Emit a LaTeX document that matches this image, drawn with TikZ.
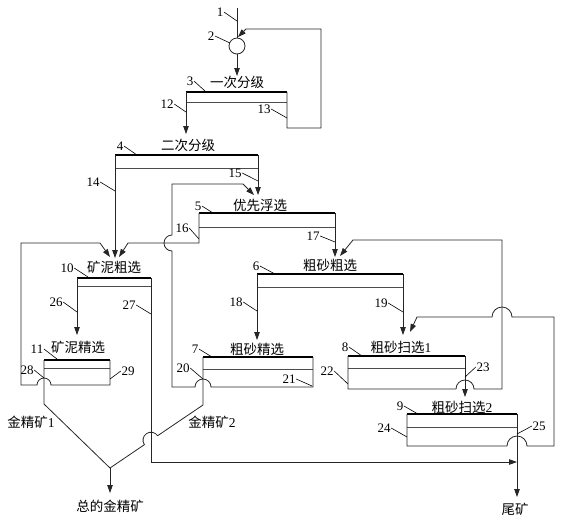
\documentclass[tikz,border=0pt]{standalone}
\usepackage{fontspec}
\setmainfont{Liberation Serif}
\newfontfamily\cjk{Noto Sans CJK SC}
\usetikzlibrary{arrows.meta}

\begin{document}
\begin{tikzpicture}[x=1pt,y=-1pt,
  flow/.style={draw=black!85,line width=0.8pt},
  arr/.style={flow,-{Triangle[length=8pt,width=5.5pt]}},
  deck/.style={draw=black,line width=2.2pt},
  midline/.style={draw=black!70,line width=0.7pt},
  lead/.style={draw=black,line width=0.6pt},
  num/.style={inner sep=0.5pt,font=\fontsize{13}{14}\selectfont},
  unit/.style={inner sep=0pt,font=\cjk\fontsize{13.5}{14}\selectfont}]
\useasboundingbox (0,0) rectangle (569,520);

% units: top deck and middle line
\foreach \n/\xl/\xr/\yt/\ym in {3/186/287/92/102, 4/115/258/155/168, 5/199/335/213/227,
    6/257/403/274/287, 7/203/313/357/369, 8/348/465/356/368, 9/407/517/414/427,
    10/77/151/278/286, 11/44/110/360/368} {
  \coordinate (b\n l) at (\xl,\yt);
  \coordinate (b\n r) at (\xr,\yt);
  \draw[midline] (\xl,\ym) -- (\xr,\ym);
  \draw[deck] (b\n l) -- (b\n r);
}

% unit names
\node[unit] (t3) at (237,82) {一次分级};
\node[unit] (t4) at (188,145) {二次分级};
\node[unit] (t5) at (260,205) {优先浮选};
\node[unit] (t6) at (330,265) {粗砂粗选};
\node[unit] (t7) at (257,349) {粗砂精选};
\node[unit] (t8) at (401,347) {粗砂扫选\rmfamily 1};
\node[unit] (t9) at (462,407) {粗砂扫选\rmfamily 2};
\node[unit] (t10) at (114,267) {矿泥粗选};
\node[unit] (t11) at (78,347) {矿泥精选};
\node[unit] (au1) at (31,422) {金精矿\rmfamily 1};
\node[unit] (au2) at (212,422) {金精矿\rmfamily 2};
\node[unit] (total) at (110,506) {总的金精矿};
\node[unit] (tail) at (515,509) {尾矿};

% feed and cyclone
\coordinate (feed) at (237,8);
\node[circle,draw=black!85,line width=0.8pt,minimum size=16pt,inner sep=0pt] (cyc) at (237,46) {};
\draw[flow] (feed) -- (cyc.north);
\draw[arr] (cyc.south) -- (237,76);
\draw[arr] (b3r) -- ++(0,36) -| (321,29) -- (246,29) -- (238,37);
\draw[arr] (b3l) -- (186,134);

% second classification
\draw[arr] (b4l) -- (115,258);
\draw[arr] (b4r) -- (258,195);

% preferential flotation
\draw[arr] (b5l) -- (199,243) -- (128,243) -- (119,257);
\draw[arr] (b5r) -- (335,257);

% coarse sand cleaner
\draw[arr] (b7r) -- (313,387) -- (211,387) arc[start angle=0,end angle=-180,radius=8]
  -- (172,387) -- (172,251) arc[start angle=90,end angle=270,radius=8]
  -- (172,184) -- (243,184) -- (254,195);
\coordinate (join) at (110,468);
\draw[flow] (b7l) -- (203,405) -- (157.62,435.71)
  arc[start angle=-34.1,end angle=-214.1,radius=8] -- (join);

% slime rougher and cleaner
\draw[arr] (b10l) -- (77,335);
\draw[arr] (b10r) -- (151,462) -- (517,462);
\draw[flow] (b11l) -- (44,404) -- (join);
\draw[arr] (b11r) -- (110,385) -- (51,385) arc[start angle=0,end angle=-180,radius=7]
  -- (21,385) -- (21,243) -- (100,243) -- (110,257);
\draw[arr] (join) -- (110,493);

% coarse sand rougher and scavengers
\draw[arr] (b6l) -- (257,340);
\draw[arr] (b6r) -- (403,335);
\draw[arr] (b8l) -- (348,389) -- (456,389) arc[start angle=180,end angle=360,radius=9]
  -- (502,389) -- (502,240) -- (353,240) -- (340,256);
\draw[arr] (b8r) -- (465,397);
\draw[arr] (b9l) -- (407,446) -- (507,446) arc[start angle=180,end angle=360,radius=10]
  -- (554,446) -- (554,317) -- (512,317) arc[start angle=0,end angle=-180,radius=10]
  -- (417,317) -- (410,332);
\draw[arr] (b9r) -- (517,497);

% stream numbers
\foreach \t/\lx/\ly/\ex/\ey in {1/220/12/237/21, 2/211/36/230/43, 3/190/81/205/91,
    4/120/146/137/155, 5/198/206/213/213, 6/256/266/275/274, 7/195/349/212/357,
    8/345/347/362/356, 9/400/406/418/414, 10/67/268/88/277, 11/37/349/57/359,
    12/167/104/186/112, 13/264/109/287/118, 14/93/182/115/191, 15/235/173/258/181,
    16/182/228/199/239, 17/313/236/335/242, 18/236/302/257/311, 19/381/303/403/312,
    20/183/368/203/379, 21/289/379/312/386, 22/327/371/348/384, 24/384/428/407/437,
    26/56/302/77/312, 27/129/305/151/314, 28/27/370/44/378} {
  \node[num] (n\t) at (\lx,\ly) {\t};
  \draw[lead] (n\t.east) -- (\ex,\ey);
}
\foreach \t/\lx/\ly/\ex/\ey in {23/483/367/465/377, 25/539/426/517/434, 29/128/371/110/379} {
  \node[num] (n\t) at (\lx,\ly) {\t};
  \draw[lead] (n\t.west) -- (\ex,\ey);
}
\end{tikzpicture}
\end{document}
